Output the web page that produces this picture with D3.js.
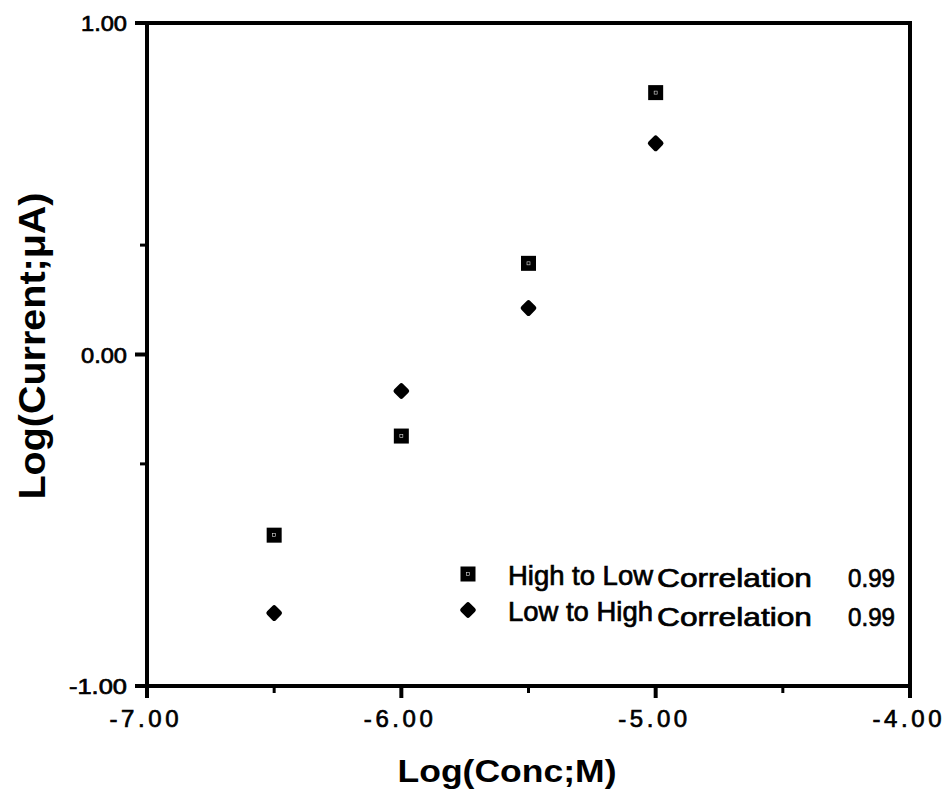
<!DOCTYPE html>
<html>
<head>
<meta charset="UTF-8">
<title>Log(Current) vs Log(Conc)</title>
<script src="https://cdn.jsdelivr.net/npm/d3@7"></script>
<style>
	html, body { margin: 0; padding: 0; background: #fff; }
	svg { display: block; }
	text { font-family: "Liberation Sans", Arial, Helvetica, sans-serif; fill: #000; }
	.heavy { stroke: #000; stroke-width: 0.7; }
</style>
</head>
<body>
<div id="chart"></div>
<script>
	// values
	var logConc = [-6.5, -6.0, -5.5, -5.0];
	var highToLow = [-0.545, -0.246, 0.275, 0.79];
	var lowToHigh = [-0.78, -0.11, 0.14, 0.637];
	var xTicks = [-7, -6, -5, -4];
	var xMinorTicks = [-6.5, -5.5, -4.5];
	var yTicks = [-1, 0, 1];
	var yMinorTicks = [-0.33, 0.33];
	var seriesNames = ["High to Low", "Low to High"];
	var correlations = ["0.99", "0.99"];

	var W = 948, H = 794;
	var svg = d3.select("#chart").append("svg")
		.attr("width", W)
		.attr("height", H);

	var x = d3.scaleLinear().domain([-7, -4]).range([147, 910]);
	var y = d3.scaleLinear().domain([-1, 1]).range([686, 23]);
	var fmt = function(d) { return d.toFixed(2); };

	// frame
	svg.append("rect")
		.attr("x", x(-7)).attr("y", y(1))
		.attr("width", x(-4) - x(-7)).attr("height", y(-1) - y(1))
		.attr("fill", "none").attr("stroke", "#000").attr("stroke-width", 4);

	// x ticks
	svg.selectAll(".xt").data(xTicks).enter().append("line")
		.attr("x1", d => x(d)).attr("x2", d => x(d))
		.attr("y1", y(-1)).attr("y2", y(-1) + 12)
		.attr("stroke", "#000").attr("stroke-width", 4);
	svg.selectAll(".xm").data(xMinorTicks).enter().append("line")
		.attr("x1", d => x(d)).attr("x2", d => x(d))
		.attr("y1", y(-1)).attr("y2", y(-1) + 7)
		.attr("stroke", "#000").attr("stroke-width", 3);
	svg.selectAll(".xl").data(xTicks).enter().append("text")
		.attr("class", "heavy")
		.attr("x", d => x(d) - 3).attr("y", 727)
		.attr("text-anchor", "middle")
		.attr("font-size", 24)
		.attr("textLength", 69).attr("lengthAdjust", "spacing")
		.text(fmt);

	// y ticks
	svg.selectAll(".yt").data(yTicks).enter().append("line")
		.attr("x1", x(-7) - 12).attr("x2", x(-7))
		.attr("y1", d => y(d)).attr("y2", d => y(d))
		.attr("stroke", "#000").attr("stroke-width", 4);
	svg.selectAll(".ym").data(yMinorTicks).enter().append("line")
		.attr("x1", x(-7) - 7).attr("x2", x(-7))
		.attr("y1", d => y(d)).attr("y2", d => y(d))
		.attr("stroke", "#000").attr("stroke-width", 3);
	svg.selectAll(".yl").data(yTicks).enter().append("text")
		.attr("class", "heavy")
		.attr("x", 127).attr("y", d => y(d) + 8)
		.attr("text-anchor", "end")
		.attr("font-size", 22)
		.attr("textLength", d => d < 0 ? 58 : 46).attr("lengthAdjust", "spacingAndGlyphs")
		.text(fmt);

	// axis titles
	svg.append("text")
		.attr("x", 507).attr("y", 782)
		.attr("text-anchor", "middle")
		.attr("font-size", 31).attr("font-weight", "bold")
		.attr("textLength", 219).attr("lengthAdjust", "spacingAndGlyphs")
		.text("Log(Conc;M)");
	svg.append("text")
		.attr("transform", "translate(45,346) rotate(-90)")
		.attr("text-anchor", "middle")
		.attr("font-size", 37).attr("font-weight", "bold")
		.attr("textLength", 307).attr("lengthAdjust", "spacingAndGlyphs")
		.text("Log(Current;\u03BCA)");

	// markers
	function square(g, cx, cy) {
		g.append("rect").attr("x", cx - 7.5).attr("y", cy - 7.5)
			.attr("width", 15).attr("height", 15).attr("fill", "#000");
		g.append("rect").attr("x", cx - 1.5).attr("y", cy - 1.5)
			.attr("width", 3).attr("height", 3)
			.attr("fill", "none").attr("stroke", "#ddd").attr("stroke-width", 0.6);
	}
	var diamondPath = d3.symbol().type(d3.symbolDiamond2).size(72);
	function diamond(g, cx, cy) {
		g.append("path").attr("d", diamondPath())
			.attr("transform", "translate(" + cx + "," + cy + ")")
			.attr("fill", "#000").attr("stroke", "#000")
			.attr("stroke-width", 5).attr("stroke-linejoin", "round");
	}

	var pts = svg.append("g");
	logConc.forEach(function(c, i) {
		square(pts, x(c), y(highToLow[i]));
		diamond(pts, x(c), y(lowToHigh[i]));
	});

	// legend
	var leg = svg.append("g");
	square(leg, 468, 574);
	diamond(leg, 468, 610);
	var rows = [
		{ name: seriesNames[0], r: correlations[0], y1: 585, y2: 587 },
		{ name: seriesNames[1], r: correlations[1], y1: 621, y2: 626 }
	];
	rows.forEach(function(r) {
		leg.append("text").attr("class", "heavy")
			.attr("x", 508).attr("y", r.y1)
			.attr("font-size", 27)
			.attr("textLength", 145).attr("lengthAdjust", "spacingAndGlyphs")
			.text(r.name);
		leg.append("text").attr("class", "heavy")
			.attr("x", 657).attr("y", r.y2)
			.attr("font-size", 26)
			.attr("textLength", 155).attr("lengthAdjust", "spacingAndGlyphs")
			.text("Correlation");
		leg.append("text").attr("class", "heavy")
			.attr("x", 848).attr("y", r.y2)
			.attr("font-size", 26)
			.attr("textLength", 47).attr("lengthAdjust", "spacingAndGlyphs")
			.text(r.r);
	});
</script>
</body>
</html>
